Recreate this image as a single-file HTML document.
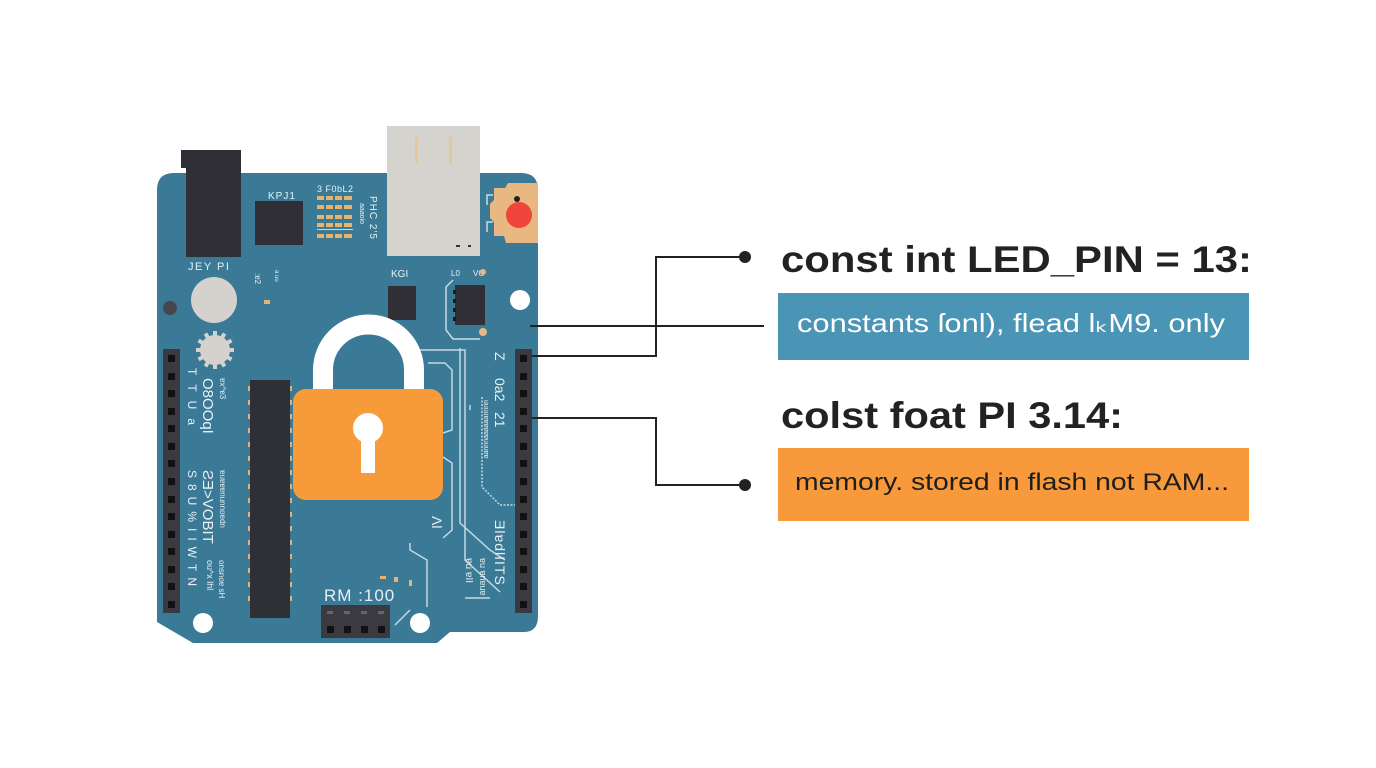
<!DOCTYPE html>
<html><head><meta charset="utf-8"><style>
html,body{margin:0;padding:0;background:#fff;}
svg{display:block;}
</style></head><body>
<svg width="1376" height="768" viewBox="0 0 1376 768" xmlns="http://www.w3.org/2000/svg" font-family="Liberation Sans, sans-serif">
<rect width="1376" height="768" fill="#fff"/>

<!-- USB connector -->
<rect x="387" y="126" width="93" height="130" fill="#d5d3ce"/>
<rect x="415" y="137" width="3" height="26" fill="#e6c79a"/>
<rect x="449" y="137" width="3" height="26" fill="#e6c79a"/>

<!-- Board -->
<path d="M157,190 Q157,173 174,173 L521,173 Q538,173 538,190 L538,616 Q538,632 524,632 L450,632 L437,643 L193,643 L157,622 Z" fill="#3b7a96"/>
<rect x="387" y="173" width="93" height="83" fill="#d5d3ce"/>
<rect x="456" y="245" width="4" height="2" fill="#333"/>
<rect x="468" y="245" width="3" height="2" fill="#333"/>

<!-- Power jack -->
<rect x="181" y="150" width="60" height="18" fill="#2f2f35"/>
<rect x="186" y="150" width="55" height="107" fill="#2f2f35"/>

<!-- top chip -->
<rect x="255" y="201" width="48" height="44" fill="#2f2f35"/>
<text x="268" y="199" font-size="10" fill="#e8f0f3" letter-spacing="1">KPJ1</text>
<text x="317" y="192" font-size="9" fill="#e8f0f3" letter-spacing="0.5">3 F0bL2</text>
<g fill="#e8b36d">
<rect x="317" y="196" width="7" height="4"/><rect x="326" y="196" width="7" height="4"/><rect x="335" y="196" width="7" height="4"/><rect x="344" y="196" width="8" height="4"/>
<rect x="317" y="205" width="7" height="4"/><rect x="326" y="205" width="7" height="4"/><rect x="335" y="205" width="7" height="4"/><rect x="344" y="205" width="8" height="4"/>
<rect x="317" y="215" width="7" height="4"/><rect x="326" y="215" width="7" height="4"/><rect x="335" y="215" width="7" height="4"/><rect x="344" y="215" width="8" height="4"/>
<rect x="317" y="223" width="7" height="4"/><rect x="326" y="223" width="7" height="4"/><rect x="335" y="223" width="7" height="4"/><rect x="344" y="223" width="8" height="4"/>
<rect x="317" y="234" width="7" height="4"/><rect x="326" y="234" width="7" height="4"/><rect x="335" y="234" width="7" height="4"/><rect x="344" y="234" width="8" height="4"/>
</g>
<rect x="317" y="229" width="36" height="1" fill="#c9dbe3"/>
<text transform="translate(370,196) rotate(90)" font-size="10" fill="#e8f0f3" letter-spacing="1">PHC 2'5</text>
<text transform="translate(360,203) rotate(90)" font-size="7" fill="#e8f0f3">aaaoio</text>

<!-- LED pad -->
<path d="M494,188 L505,188 L508,183 L538,183 L538,243 L506,243 L504,236 L494,236 L494,222 L490,218 L490,204 L494,200 Z" fill="#e9b882"/>
<circle cx="519" cy="215" r="13" fill="#f0453a"/>
<circle cx="517" cy="199" r="3" fill="#222"/>
<path d="M493,195 L487,195 L487,205 M493,222 L487,222 L487,232" stroke="#c9dbe3" stroke-width="1.5" fill="none"/>

<!-- misc left top -->
<text x="188" y="270" font-size="11" fill="#e8f0f3" letter-spacing="1.5">JEY PI</text>
<circle cx="214" cy="300" r="23" fill="#d5d2cd"/>
<circle cx="170" cy="308" r="7" fill="#46474c"/>
<g transform="translate(215,350)" fill="#d5d2cd">
<circle r="15"/>
<g id="t"><rect x="-2" y="-19" width="4" height="6"/></g>
<use href="#t" transform="rotate(30)"/><use href="#t" transform="rotate(60)"/><use href="#t" transform="rotate(90)"/>
<use href="#t" transform="rotate(120)"/><use href="#t" transform="rotate(150)"/><use href="#t" transform="rotate(180)"/>
<use href="#t" transform="rotate(210)"/><use href="#t" transform="rotate(240)"/><use href="#t" transform="rotate(270)"/>
<use href="#t" transform="rotate(300)"/><use href="#t" transform="rotate(330)"/>
</g>
<text transform="translate(255,273) rotate(90)" font-size="8" fill="#e8f0f3">:ɐ2</text>
<text transform="translate(275,270) rotate(90)" font-size="6" fill="#e8f0f3">a uu</text>
<rect x="264" y="300" width="6" height="4" fill="#e8b36d"/>

<!-- KGI chip -->
<text x="391" y="277" font-size="10" fill="#e8f0f3">KGI</text>
<rect x="388" y="286" width="28" height="34" fill="#2f2f35"/>

<!-- small chip with trace -->
<text x="451" y="276" font-size="8" fill="#e8f0f3">L0</text>
<text x="473" y="276" font-size="8" fill="#e8f0f3">VO</text>
<path d="M453,280 L446,287 L446,330 L453,339 L480,339" stroke="#c9dbe3" stroke-width="1.5" fill="none"/>
<rect x="455" y="285" width="30" height="40" fill="#2f2f35"/>
<g fill="#1a1a1e"><rect x="453" y="290" width="3" height="4"/><rect x="453" y="299" width="3" height="4"/><rect x="453" y="308" width="3" height="4"/><rect x="453" y="317" width="3" height="4"/></g>
<circle cx="483" cy="332" r="4" fill="#e8b882"/>
<circle cx="483" cy="272" r="3" fill="#e8b882"/>

<!-- mounting holes -->
<circle cx="520" cy="300" r="10" fill="#fff"/>
<circle cx="203" cy="623" r="10" fill="#fff"/>
<circle cx="420" cy="623" r="10" fill="#fff"/>

<!-- traces -->
<g stroke="#c4d8e1" stroke-width="1.5" fill="none">
<path d="M420,350 L465,350 L465,560 L500,592"/>
<path d="M460,348 L460,523 L490,550 L505,560"/>
<path d="M428,363 L445,363 L452,370 L452,430 L443,433"/>
<path d="M443,457 L452,463 L452,530 L443,538"/>
<path d="M410,543 L410,550 L427,560 L427,607"/>
<path d="M482,397 L482,487 L500,505 L515,505" stroke-dasharray="2 1.5"/>
<path d="M470,405 L470,410" />
<path d="M465,598 L490,598"/>
<path d="M410,610 L395,625"/>
</g>

<!-- long chip -->
<rect x="250" y="380" width="40" height="238" fill="#2f3035"/>
<g fill="#d8b585">
<rect x="248" y="386" width="2" height="5"/><rect x="248" y="400" width="2" height="5"/><rect x="248" y="414" width="2" height="5"/><rect x="248" y="428" width="2" height="5"/><rect x="248" y="442" width="2" height="5"/><rect x="248" y="456" width="2" height="5"/><rect x="248" y="470" width="2" height="5"/><rect x="248" y="484" width="2" height="5"/><rect x="248" y="498" width="2" height="5"/><rect x="248" y="512" width="2" height="5"/><rect x="248" y="526" width="2" height="5"/><rect x="248" y="540" width="2" height="5"/><rect x="248" y="554" width="2" height="5"/><rect x="248" y="568" width="2" height="5"/><rect x="248" y="582" width="2" height="5"/><rect x="248" y="596" width="2" height="5"/>
<rect x="290" y="386" width="2" height="5"/><rect x="290" y="400" width="2" height="5"/><rect x="290" y="414" width="2" height="5"/><rect x="290" y="428" width="2" height="5"/><rect x="290" y="442" width="2" height="5"/><rect x="290" y="456" width="2" height="5"/><rect x="290" y="470" width="2" height="5"/><rect x="290" y="484" width="2" height="5"/><rect x="290" y="498" width="2" height="5"/><rect x="290" y="512" width="2" height="5"/><rect x="290" y="526" width="2" height="5"/><rect x="290" y="540" width="2" height="5"/><rect x="290" y="554" width="2" height="5"/><rect x="290" y="568" width="2" height="5"/><rect x="290" y="582" width="2" height="5"/><rect x="290" y="596" width="2" height="5"/>
</g>

<!-- headers -->
<rect x="163" y="349" width="17" height="264" fill="#3a3a40"/>
<rect x="515" y="349" width="17" height="264" fill="#3a3a40"/>
<g fill="#111">
<rect x="168" y="355" width="7" height="7"/><rect x="168" y="373" width="7" height="7"/><rect x="168" y="390" width="7" height="7"/><rect x="168" y="408" width="7" height="7"/><rect x="168" y="425" width="7" height="7"/><rect x="168" y="443" width="7" height="7"/><rect x="168" y="460" width="7" height="7"/><rect x="168" y="478" width="7" height="7"/><rect x="168" y="496" width="7" height="7"/><rect x="168" y="513" width="7" height="7"/><rect x="168" y="531" width="7" height="7"/><rect x="168" y="548" width="7" height="7"/><rect x="168" y="566" width="7" height="7"/><rect x="168" y="583" width="7" height="7"/><rect x="168" y="601" width="7" height="7"/>
<rect x="520" y="355" width="7" height="7"/><rect x="520" y="373" width="7" height="7"/><rect x="520" y="390" width="7" height="7"/><rect x="520" y="408" width="7" height="7"/><rect x="520" y="425" width="7" height="7"/><rect x="520" y="443" width="7" height="7"/><rect x="520" y="460" width="7" height="7"/><rect x="520" y="478" width="7" height="7"/><rect x="520" y="496" width="7" height="7"/><rect x="520" y="513" width="7" height="7"/><rect x="520" y="531" width="7" height="7"/><rect x="520" y="548" width="7" height="7"/><rect x="520" y="566" width="7" height="7"/><rect x="520" y="583" width="7" height="7"/><rect x="520" y="601" width="7" height="7"/>
</g>

<!-- left board text -->
<g fill="#e8f0f3">
<text transform="translate(188,368) rotate(90)" font-size="12" letter-spacing="9">TTUa</text>
<text transform="translate(188,470) rotate(90)" font-size="12" letter-spacing="6">S8U%IIWTN</text>
<text transform="translate(203,378) rotate(90)" font-size="15" letter-spacing="0">O8OOqI</text>
<text transform="translate(220,378) rotate(90)" font-size="8">ɐx^ɐ3</text>
<text transform="translate(203,470) rotate(90)" font-size="15">ƧƎ&gt;VOBIT</text>
<text transform="translate(220,470) rotate(90)" font-size="8">ɐuɐɐɐnunnoɐdn</text>
<text transform="translate(207,560) rotate(90)" font-size="9">ou^x lhl</text>
<text transform="translate(219,560) rotate(90)" font-size="8">onsnoɐ sH</text>
</g>

<!-- right board text -->
<g fill="#e8f0f3">
<text transform="translate(495,352) rotate(90)" font-size="14">Z</text>
<text transform="translate(495,378) rotate(90)" font-size="14">0a2</text>
<text transform="translate(495,412) rotate(90)" font-size="14">21</text>
<text transform="translate(484,400) rotate(90)" font-size="7">uuuuɐɐɐɐɐɐuuuɐɐ</text>
<text transform="translate(495,520) rotate(90)" font-size="14" letter-spacing="1">ƎlɐdlIITS</text>
<text transform="translate(480,558) rotate(90)" font-size="9">ɐu ɐnɐuɐ</text>
<text transform="translate(466,558) rotate(90)" font-size="10">ɐu ɐII</text>
<text transform="translate(432,516) rotate(90)" font-size="14">Ʌl</text>
</g>

<!-- bottom -->
<rect x="380" y="576" width="6" height="3" fill="#e8b36d"/>
<rect x="394" y="577" width="4" height="5" fill="#e8b36d"/>
<rect x="409" y="580" width="3" height="6" fill="#e8b36d"/>
<text x="324" y="601" font-size="17" fill="#e8f0f3" letter-spacing="1">RM :100</text>
<rect x="321" y="605" width="69" height="33" fill="#3a3a40"/>
<g fill="#111"><rect x="327" y="626" width="7" height="7"/><rect x="344" y="626" width="7" height="7"/><rect x="361" y="626" width="7" height="7"/><rect x="378" y="626" width="7" height="7"/></g>
<g fill="#666"><rect x="327" y="611" width="6" height="3"/><rect x="344" y="611" width="6" height="3"/><rect x="361" y="611" width="6" height="3"/><rect x="378" y="611" width="6" height="3"/></g>

<!-- lock -->
<path d="M323,398 L323,370 A45.5,45.5 0 0 1 414,370 L414,398" stroke="#fff" stroke-width="20" fill="none"/>
<rect x="293" y="389" width="150" height="111" rx="13" fill="#f79a3a"/>
<circle cx="368" cy="428" r="15" fill="#fff"/>
<rect x="361" y="428" width="14" height="45" fill="#fff"/>

<!-- connectors -->
<g stroke="#222" stroke-width="2" fill="none">
<path d="M532,356 L656,356 L656,257 L745,257"/>
<path d="M530,326 L764,326"/>
<path d="M532,418 L656,418 L656,485 L745,485"/>
</g>
<circle cx="745" cy="257" r="6" fill="#222"/>
<circle cx="745" cy="485" r="6" fill="#222"/>

<!-- right side labels -->
<text x="781" y="272" font-size="37" font-weight="bold" fill="#222" textLength="471" lengthAdjust="spacingAndGlyphs">const int LED_PIN = 13:</text>
<rect x="778" y="293" width="471" height="67" fill="#4a94b6"/>
<text x="797" y="332" font-size="26" fill="#fff" textLength="428" lengthAdjust="spacingAndGlyphs">constants ſonl), flead lₖM9. only</text>
<text x="781" y="428" font-size="37" font-weight="bold" fill="#222" textLength="342" lengthAdjust="spacingAndGlyphs">colst foat PI 3.14:</text>
<rect x="778" y="448" width="471" height="73" fill="#f8993c"/>
<text x="795" y="490" font-size="24" fill="#1e1e1e" textLength="434" lengthAdjust="spacingAndGlyphs">memory. stored in flash not RAM...</text>
</svg>
</body></html>
